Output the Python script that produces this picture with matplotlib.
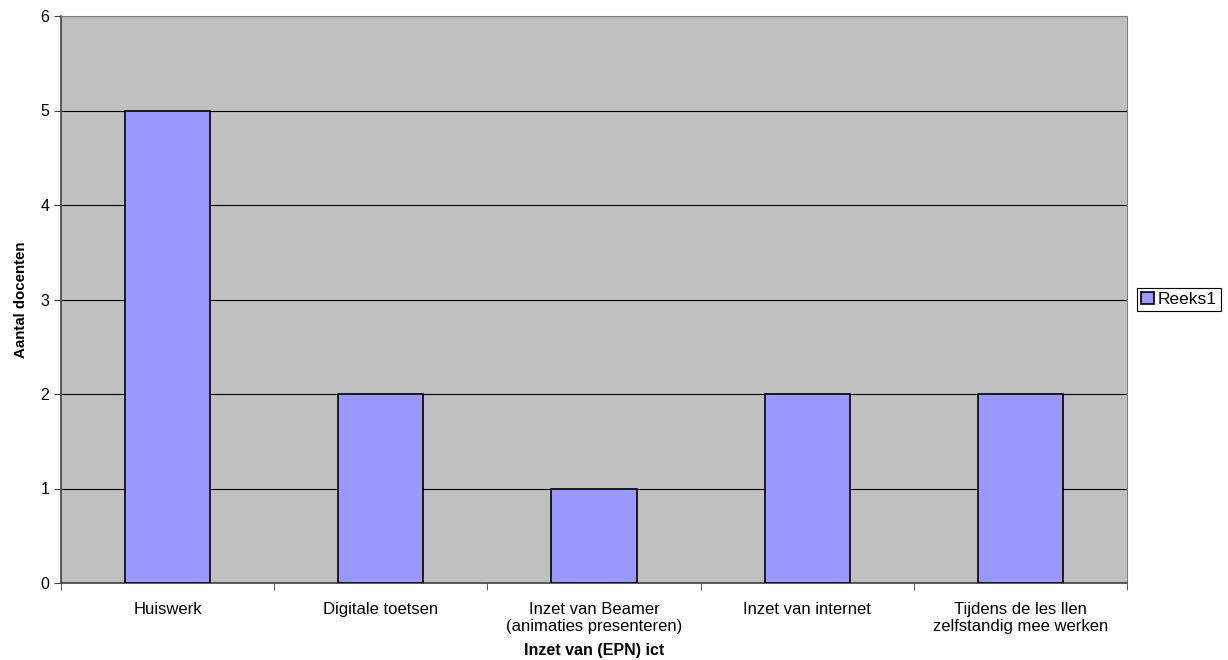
import numpy as np
import matplotlib.pyplot as plt
from matplotlib.ticker import FixedLocator, NullFormatter

plt.rcParams['font.family'] = ['Liberation Sans', 'DejaVu Sans']

categories = ['Huiswerk', 'Digitale toetsen', 'Inzet van Beamer\n(animaties presenteren)',
              'Inzet van internet', 'Tijdens de les llen\nzelfstandig mee werken']
values = [5, 2, 1, 2, 2]
series_name = 'Reeks1'

fig = plt.figure(figsize=(12.28, 6.6), dpi=100)
ax = fig.add_axes([61/1228, 1-583/660, (1127-61)/1228, (583-16)/660])
ax.set_facecolor('#C0C0C0')

x = np.arange(len(categories))
ax.bar(x, values, width=0.4, color='#9999FF', edgecolor='black', linewidth=1.2,
       label=series_name, zorder=3)

ax.set_xlim(-0.5, len(categories) - 0.5)
ax.set_ylim(0, 6)
ax.set_yticks(range(0, 7))
ax.yaxis.grid(True, color='black', linewidth=0.8, zorder=1)

ax.set_xticks(x)
ax.set_xticklabels(categories, fontsize=12, linespacing=1.1)
ax.tick_params(axis='x', length=0, pad=14)
ax.xaxis.set_minor_locator(FixedLocator(np.arange(-0.5, len(categories), 1)))
ax.xaxis.set_minor_formatter(NullFormatter())
ax.tick_params(axis='x', which='minor', length=5, color='#404040')
ax.tick_params(axis='y', length=5, labelsize=11.5, color='#404040')

for s in ['top', 'right']:
    ax.spines[s].set_visible(True)
    ax.spines[s].set_color('#808080')
    ax.spines[s].set_linewidth(0.8)
for s in ['left', 'bottom']:
    ax.spines[s].set_color('#404040')
    ax.spines[s].set_linewidth(1.2)

ax.set_xlabel('Inzet van (EPN) ict', fontsize=11.5, fontweight='bold', labelpad=7)
ax.set_ylabel('Aantal docenten', fontsize=10.8, fontweight='bold', labelpad=9)

leg = ax.legend(loc='center left', bbox_to_anchor=(1.0095, 0.5), fontsize=12.5,
                frameon=True, fancybox=False, edgecolor='black', framealpha=1,
                handlelength=0.7, handleheight=0.7, handletextpad=0.25,
                borderpad=0.25, borderaxespad=0)
leg.get_frame().set_linewidth(0.8)

fig.savefig('out.png', dpi=100)
